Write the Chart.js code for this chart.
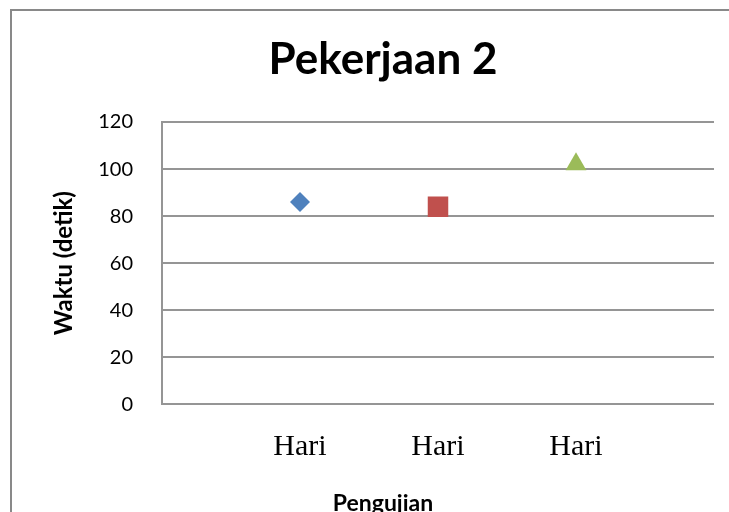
<!DOCTYPE html>
<html>
<head>
<meta charset="utf-8">
<style>
  html, body { margin: 0; padding: 0; background: #fff; overflow: hidden; }
  #wrap { width: 760px; height: 520px; }
</style>
<script src="https://cdn.jsdelivr.net/npm/chart.js@4/dist/chart.umd.min.js"></script>
</head>
<body>
<div id="wrap"><canvas id="waktuChart" width="760" height="520"></canvas></div>
<script>
// Data
const categories = ['Hari', 'Hari', 'Hari'];
const pengujianX = [1, 2, 3];
const waktuDetik = [86, 84, 102];
const yTickValues = [0, 20, 40, 60, 80, 100, 120];

// One series per test, each with its own marker
const markerStyles = ['rectRot', 'rect', 'triangle'];
const markerColors = ['#4F81BD', '#C0504D', '#9BBB59'];
const markerRadius = [10, 14.5, 12];

const gridGray = '#959595';

// outer frame of the chart object (only top and left edges are on the page)
const frameBorder = {
    id: 'frameBorder',
    beforeDraw(chart) {
        const ctx = chart.ctx;
        ctx.save();
        ctx.fillStyle = '#fff';
        ctx.fillRect(0, 0, chart.width, chart.height);
        ctx.strokeStyle = '#898989';
        ctx.lineWidth = 2;
        ctx.beginPath();
        ctx.moveTo(11, 2000);
        ctx.lineTo(11, 10);
        ctx.lineTo(2000, 10);
        ctx.stroke();
        ctx.restore();
    }
};

const datasets = waktuDetik.map((v, i) => ({
    label: categories[i] + ' ' + (i + 1),
    data: [{ x: pengujianX[i], y: v }],
    pointStyle: markerStyles[i],
    pointRadius: markerRadius[i],
    pointHoverRadius: markerRadius[i],
    backgroundColor: markerColors[i],
    borderColor: markerColors[i],
    borderWidth: 0,
    showLine: false
}));

new Chart(document.getElementById('waktuChart'), {
    type: 'scatter',
    data: { datasets: datasets },
    options: {
        responsive: false,
        animation: false,
        layout: { padding: { left: 52, right: 46, top: 0, bottom: 0 } },
        plugins: {
            legend: { display: false },
            tooltip: { enabled: false },
            title: {
                display: true,
                text: 'Pekerjaan 2',
                color: '#000',
                font: { family: 'Lato', size: 44, weight: 'bold', lineHeight: 1.2 },
                padding: { top: 33.6, bottom: 35.6 }
            },
            subtitle: {
                display: true,
                position: 'bottom',
                text: 'Pengujian',
                color: '#000',
                font: { family: 'Lato', size: 23, weight: 'bold', lineHeight: 1.2 },
                padding: { top: 25, bottom: 3 }
            }
        },
        scales: {
            x: {
                type: 'linear',
                min: 0,
                max: 4,
                grid: { display: false, drawTicks: false },
                border: { display: false },
                afterBuildTicks: scale => {
                    scale.ticks = pengujianX.map(v => ({ value: v }));
                },
                afterFit: scale => { scale.height = 60; },
                ticks: {
                    autoSkip: false,
                    maxRotation: 0,
                    padding: 25,
                    color: '#000',
                    font: { family: 'Liberation Serif', size: 30 },
                    callback: (value, index) => categories[index]
                }
            },
            y: {
                min: 0,
                max: 120,
                afterBuildTicks: scale => {
                    scale.ticks = yTickValues.map(v => ({ value: v }));
                },
                afterFit: scale => { scale.width = 110; },
                grid: { color: gridGray, lineWidth: 2, drawTicks: false },
                border: { display: true, color: gridGray, width: 2 },
                ticks: {
                    padding: 29,
                    color: '#000',
                    font: { family: 'Lato', size: 20 }
                },
                title: {
                    display: true,
                    text: 'Waktu (detik)',
                    color: '#000',
                    font: { family: 'Lato', size: 24, weight: 'bold', lineHeight: 1 },
                    padding: 0
                }
            }
        }
    },
    plugins: [frameBorder]
});
</script>
</body>
</html>
